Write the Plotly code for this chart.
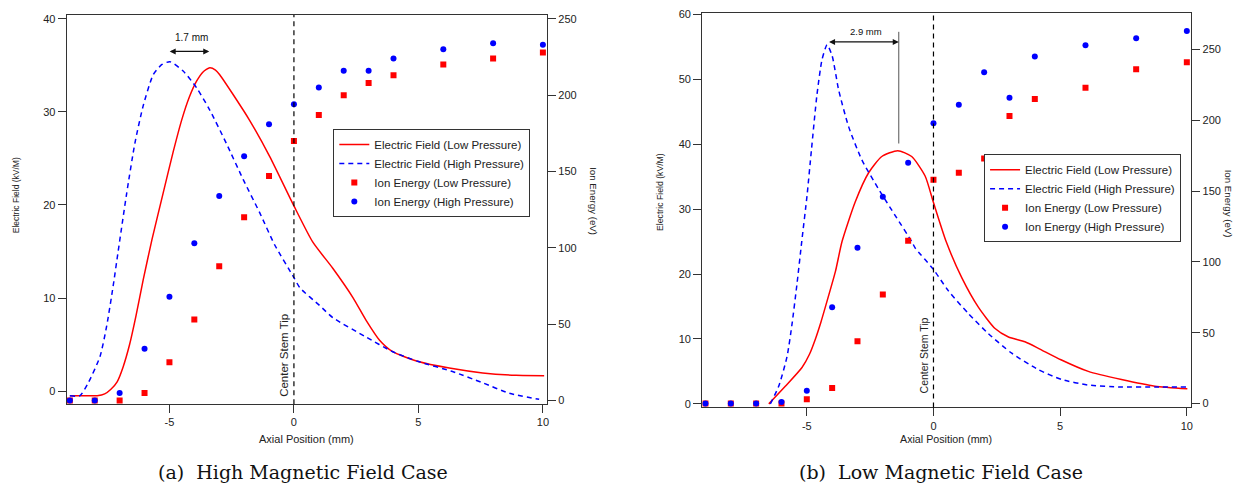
import plotly.graph_objects as go

# ---- (a) high magnetic field case ----
ef_low_a_x = [-9.0, -8.6, -7.9, -7.6, -7.35, -7.1, -6.86, -6.6, -6.35, -6.05, -5.7, -5.25, -4.85,
              -4.5, -4.2, -3.91, -3.65, -3.38, -3.15, -2.98, -2.45, -1.78, -0.97, 0.0, 0.76,
              1.56, 2.37, 2.9, 3.44, 3.97, 5.0, 6.24, 7.58, 8.92, 10.05]
ef_low_a_y = [-0.5, -0.5, -0.5, -0.3, 0.2, 1.0, 2.6, 5.0, 8.0, 12.0, 16.3, 21.3, 25.7,
              29.2, 31.6, 33.3, 34.3, 34.75, 34.5, 34.0, 31.9, 29.1, 25.2, 19.9, 16.0,
              13.2, 10.05, 7.6, 5.47, 4.23, 3.17, 2.47, 1.95, 1.7, 1.66]

ef_high_a_x = [-9.0, -8.6, -8.26, -7.79, -7.52, -7.26, -7.06, -6.72, -6.39, -6.05, -5.65, -5.3,
               -4.98, -4.45, -3.91, -3.38, -2.71, -2.04, -1.38, -0.77, 0.0, 0.24, 1.03, 1.56,
               2.9, 3.97, 5.0, 6.37, 7.58, 8.65, 9.85]
ef_high_a_y = [-0.5, -0.5, 0.89, 3.7, 7.0, 11.3, 15.0, 21.2, 26.6, 30.7, 34.0, 35.1,
               35.4, 34.4, 32.6, 30.2, 26.6, 22.75, 19.2, 15.7, 12.2, 11.1, 9.2, 7.9,
               5.8, 4.23, 3.17, 2.1, 0.89, -0.24, -0.88]

ion_x = [-9, -8, -7, -6, -5, -4, -3, -2, -1, 0, 1, 2, 3, 4, 6, 8, 10]
ion_low_a = [0, 0, 0, 5, 25, 53, 88, 120, 147, 170, 187, 200, 208, 213, 220, 224, 228]
ion_high_a = [0, 0, 5, 34, 68, 103, 134, 160, 181, 194, 205, 216, 216, 224, 230, 234, 233]

# ---- (b) low magnetic field case ----
ef_low_b_x = [-6.5, -5.85, -5.19, -4.9, -4.66, -4.45, -4.27, -3.87, -3.61, -3.09, -2.56, -2.04,
              -1.41, -0.86, -0.33, 0.0, 0.5, 1.12, 1.77, 2.43, 2.96, 3.61, 4.14, 5.03, 6.11,
              7.42, 8.74, 10.02]
ef_low_b_y = [0.0, 2.7, 5.6, 7.6, 10.0, 12.5, 14.9, 20.4, 25.0, 31.1, 35.6, 38.1,
              39.0, 38.1, 35.1, 31.0, 25.0, 19.4, 14.9, 11.6, 10.3, 9.56, 8.56, 6.8, 5.0,
              3.75, 2.73, 2.34]

ef_high_b_x = [-6.44, -6.11, -5.78, -5.58, -5.39, -5.2, -4.99, -4.82, -4.6, -4.4, -4.2, -4.0,
               -3.74, -3.35, -2.83, -2.17, -1.51, -0.86, -0.72, 0.0, 0.59, 1.38, 2.17, 3.09,
               4.14, 5.06, 6.11, 7.42, 8.74, 10.02]
ef_high_b_y = [0.0, 2.7, 7.3, 12.4, 18.4, 25.0, 32.1, 39.0, 47.6, 53.0, 55.3, 53.6,
               48.3, 42.7, 37.6, 33.1, 29.0, 25.0, 24.0, 20.7, 17.4, 13.9, 10.8, 7.8,
               5.27, 3.75, 2.9, 2.6, 2.6, 2.6]

ion_low_b = [0, 0, 0, 0, 3, 11, 44, 77, 115, 158, 163, 173, 203, 215, 223, 236, 241]
ion_high_b = [0, 0, 0, 1, 9, 68, 110, 146, 170, 198, 211, 234, 216, 245, 253, 258, 263]

x_ticks = [-5, 0, 5, 10]
x_tick_labels = ["-5", "0", "5", "10"]

names = ["Electric Field (Low Pressure)", "Electric Field (High Pressure)",
         "Ion Energy (Low Pressure)", "Ion Energy (High Pressure)"]

RED = "#ff0000"
BLUE = "#0000ff"
AX = "#333333"

# the page body adds an 8px margin, so the figure starts at (8, 8) in the window
OFF = 8
W, H = 1248 - OFF, 487 - OFF


def px(x):
    return (x - OFF) / W


def py(y):
    return min(1.0, 1 - (y - OFF) / H)


fig = go.Figure()


def add_panel(xa, ya, ya2, leg, lx, ly, hx, hy, il, ih):
    fig.add_trace(go.Scatter(x=lx, y=ly, mode="lines", name=names[0], xaxis=xa, yaxis=ya,
                             line=dict(color=RED, width=1.5, shape="spline", smoothing=0.6),
                             legend=leg))
    fig.add_trace(go.Scatter(x=hx, y=hy, mode="lines", name=names[1], xaxis=xa, yaxis=ya,
                             line=dict(color=BLUE, width=1.5, dash="5px,4px", shape="spline",
                                       smoothing=0.6), legend=leg))
    fig.add_trace(go.Scatter(x=ion_x, y=il, mode="markers", name=names[2], xaxis=xa, yaxis=ya2,
                             marker=dict(color=RED, symbol="square", size=6), legend=leg))
    fig.add_trace(go.Scatter(x=ion_x, y=ih, mode="markers", name=names[3], xaxis=xa, yaxis=ya2,
                             marker=dict(color=BLUE, symbol="circle", size=6), legend=leg))


add_panel("x", "y", "y2", "legend", ef_low_a_x, ef_low_a_y, ef_high_a_x, ef_high_a_y,
          ion_low_a, ion_high_a)
add_panel("x2", "y3", "y4", "legend2", ef_low_b_x, ef_low_b_y, ef_high_b_x, ef_high_b_y,
          ion_low_b, ion_high_b)

tickfont = dict(family="Liberation Sans, Arial", size=11, color="#222")
common = dict(showline=True, linecolor=AX, linewidth=1, ticks="outside", ticklen=8,
              tickcolor=AX, showgrid=False, zeroline=False, tickfont=tickfont,
              ticklabeloverflow="allow")
legfont = dict(family="Liberation Sans, Arial", size=11.5, color="#222")

fig.update_layout(
    width=W, height=H,
    margin=dict(l=0, r=0, t=0, b=0),
    plot_bgcolor="white", paper_bgcolor="white",
    font=dict(family="Liberation Sans, Arial", color="#222"),
    xaxis=dict(domain=[px(66.7), px(548)], range=[-9.13, 10.17], anchor="y", mirror=True,
               tickvals=x_ticks, ticktext=x_tick_labels, **common),
    yaxis=dict(domain=[py(405), py(10)], range=[-1.41, 40.42], anchor="x",
               dtick=10, **common),
    yaxis2=dict(overlaying="y", side="right", anchor="x", range=[-2.39, 252.5], dtick=50,
                **common),
    xaxis2=dict(domain=[px(703.3), px(1193.3)], range=[-9.13, 10.18], anchor="y3", mirror=True,
                tickvals=x_ticks, ticktext=x_tick_labels, **common),
    yaxis3=dict(domain=[py(408.3), py(8)], range=[-0.55, 60.2], anchor="x2",
                dtick=10, **common),
    yaxis4=dict(overlaying="y3", side="right", anchor="x2", range=[-2.78, 275.8], dtick=50,
                **common),
    legend=dict(x=px(432.5), y=py(170.3), xanchor="center", yanchor="middle",
                bordercolor=AX, borderwidth=1, bgcolor="white", font=legfont,
                tracegroupgap=0),
    legend2=dict(x=px(1084.3), y=py(195.9), xanchor="center", yanchor="middle",
                 bordercolor=AX, borderwidth=1, bgcolor="white", font=legfont,
                 tracegroupgap=0),
)

# center stem tip lines
for xr, yr in [("x", "y"), ("x2", "y3")]:
    fig.add_shape(type="line", xref=xr, yref=yr + " domain", x0=0, x1=0, y0=0, y1=1,
                  line=dict(color="#000", width=1.2, dash="5px,4px"))
fig.add_shape(type="line", xref="x2", yref="y3", x0=-1.37, x1=-1.37, y0=40.1, y1=57.3,
              line=dict(color="#555", width=1))


def label(x, y, text, size, angle=0, family="Liberation Sans, Arial", color="#222"):
    return dict(x=px(x), y=py(y), xref="paper", yref="paper", text=text, textangle=angle,
                xanchor="center", yanchor="middle", showarrow=False,
                font=dict(family=family, size=size, color=color))


ann = []
# peak separation arrows
ann.append(dict(x=-3.4, y=36.5, ax=-5.05, ay=36.5, xref="x", yref="y", axref="x", ayref="y",
                text="", showarrow=True, arrowside="end+start", arrowhead=2, arrowsize=1,
                arrowwidth=1.2, arrowcolor="#111"))
ann.append(dict(x=-4.1, y=38.0, xref="x", yref="y", text="1.7 mm", showarrow=False,
                xanchor="center", yanchor="middle", font=dict(size=10, color="#111")))
ann.append(dict(x=-1.37, y=55.75, ax=-4.18, ay=55.75, xref="x2", yref="y3", axref="x2",
                ayref="y3", text="", showarrow=True, arrowside="end+start", arrowhead=2,
                arrowsize=1, arrowwidth=1.2, arrowcolor="#111"))
ann.append(dict(x=-2.67, y=57.4, xref="x2", yref="y3", text="2.9 mm", showarrow=False,
                xanchor="center", yanchor="middle", font=dict(size=9.5, color="#111")))
# center stem tip labels
ann.append(dict(x=0, y=py(355), xref="x", yref="paper", text="Center Stem Tip",
                textangle=-90, xanchor="right", yanchor="middle", xshift=-2, showarrow=False,
                font=dict(size=11.5, color="#222")))
ann.append(dict(x=0, y=py(355), xref="x2", yref="paper", text="Center Stem Tip",
                textangle=-90, xanchor="right", yanchor="middle", xshift=-2, showarrow=False,
                font=dict(size=10.5, color="#222")))
# axis titles
ann.append(label(16, 193, "Electric Field (kV/M)", 8.5, -90))
ann.append(label(595, 199, "Ion Energy (eV)", 9.7, 90))
ann.append(label(307, 440, "Axial Position (mm)", 11))
ann.append(label(661.7, 190, "Electric Field (kV/M)", 8.7, -90))
ann.append(label(1230, 201.5, "Ion Energy (eV)", 9.7, 90))
ann.append(label(948, 440, "Axial Position (mm)", 10.7))
# captions
ann.append(label(303, 474, "(a)  High Magnetic Field Case", 19, family="DejaVu Serif",
                 color="#111"))
ann.append(label(943, 474, "(b)  Low Magnetic Field Case", 19, family="DejaVu Serif",
                 color="#111"))
fig.update_layout(annotations=ann)

fig.write_html("out.html")
